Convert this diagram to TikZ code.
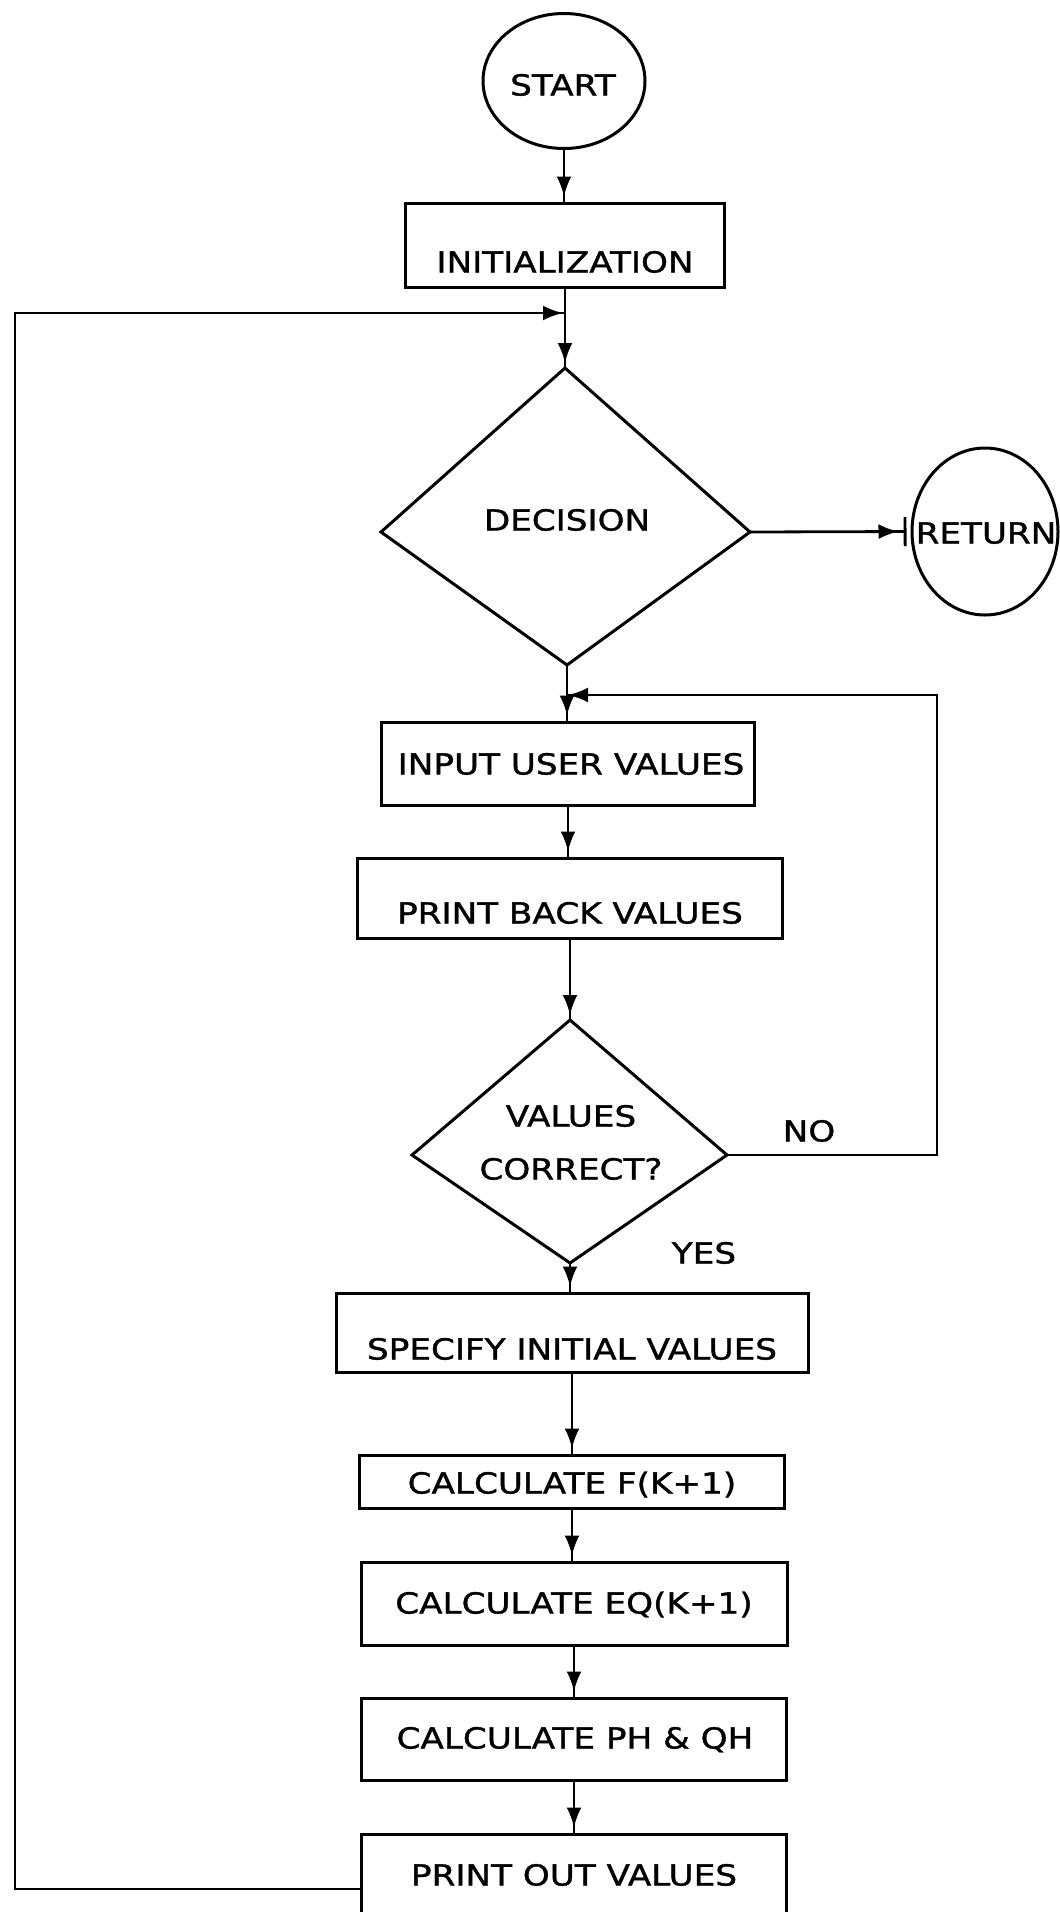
\documentclass[tikz,border=0pt]{standalone}
\usepackage{fontspec}
\newfontfamily\plotfont[FakeStretch=1.18,FakeBold=1.2]{DejaVu Sans}
\usetikzlibrary{shapes.geometric,arrows.meta,decorations.markings}

\tikzset{
  outline/.style={draw=black, line width=3pt, line join=miter},
  box/.style={outline, rectangle, inner sep=0pt},
  term/.style={outline, ellipse, inner sep=0pt},
  lbl/.style={font=\plotfont\fontsize{29}{34}\selectfont, inner sep=0pt,
              text height=21pt, text depth=0pt, anchor=center},
  conn/.style={draw=black, line width=2.8pt},
  flow/.style={conn, postaction={decorate},
    decoration={markings, mark=at position #1 with {\arrow{Latex[length=20pt,width=15pt]}}}},
  flow/.default=-5pt,
}

\begin{document}
\begin{tikzpicture}[x=1pt,y=-1pt]
\fill[white] (0,0) rectangle (1060,1912);
\useasboundingbox (0,0) rectangle (1060,1912);
\clip (0,0) rectangle (1060,1912);

% ---- terminals and process boxes ----
\node[term, minimum width=162pt, minimum height=135pt] (start) at (564,81) {};
\node[lbl] (startT) at (563,85) {START};

\node[box, minimum width=319pt, minimum height=84pt] (init) at (565,245) {};
\node[lbl] (initT) at (565,262) {INITIALIZATION};

\coordinate (loopin) at (565,313);

% first decision
\coordinate (dT) at (565,368);
\coordinate (dR) at (750,532);
\coordinate (dB) at (567,665);
\coordinate (dL) at (381,532);
\draw[outline] (dT) -- (dR) -- (dB) -- (dL) -- cycle;
\node[lbl] (decT) at (567,520) {DECISION};

\node[term, minimum width=146pt, minimum height=167pt] (ret) at (985,531.5) {};
\node[lbl] (retT) at (986,533) {RETURN};

\coordinate (noin) at (567,695);

\node[box, minimum width=373pt, minimum height=83pt] (input) at (568,763.5) {};
\node[lbl] (inputT) at (571,764) {INPUT USER VALUES};

\node[box, minimum width=425pt, minimum height=80pt] (pback) at (570,898) {};
\node[lbl] (pbackT) at (570,913) {PRINT BACK VALUES};

% second decision
\coordinate (eT) at (570,1020);
\coordinate (eR) at (727,1155);
\coordinate (eB) at (570,1263);
\coordinate (eL) at (412,1155);
\draw[outline] (eT) -- (eR) -- (eB) -- (eL) -- cycle;
\node[lbl] (valT) at (571,1116) {VALUES};
\node[lbl] (corT) at (571,1169) {CORRECT?};
\node[lbl] (noT) at (809,1131) {NO};
\node[lbl] (yesT) at (704,1253) {YES};

\coordinate (noR1) at (937,1155);
\coordinate (noR2) at (937,695);

\node[box, minimum width=472pt, minimum height=79pt] (spec) at (572,1332.5) {};
\node[lbl] (specT) at (572,1349) {SPECIFY INITIAL VALUES};

\node[box, minimum width=425pt, minimum height=53pt] (calcf) at (572,1481.5) {};
\node[lbl] (calcfT) at (572,1483) {CALCULATE F(K+1)};

\node[box, minimum width=426pt, minimum height=83pt] (calceq) at (574,1603.5) {};
\node[lbl] (calceqT) at (574,1603) {CALCULATE EQ(K+1)};

\node[box, minimum width=425pt, minimum height=82pt] (calcph) at (574,1739) {};
\node[lbl] (calcphT) at (575,1738) {CALCULATE PH \& QH};

\node[box, minimum width=425pt, minimum height=110pt] (pout) at (574,1889) {};
\node[lbl] (poutT) at (574,1875) {PRINT OUT VALUES};

\coordinate (lowL) at (15,1889);
\coordinate (topL) at (15,313);

% ---- connectors ----
\draw[flow] (start.south) -- (start.south |- init.north);
\draw[flow] (init.south) -- (dT);
\draw[flow=-12pt, -{Bar[width=29pt]}, shorten >=4pt] (dR) -- (ret.west);
\draw[flow] (dB) -- (dB |- input.north);
\draw[flow] (input.south) -- (input.south |- pback.north);
\draw[flow] (pback.south) -- (eT);
\draw[flow=-1pt] (eR) -- (noR1) -- (noR2) -- (noin);
\draw[flow] (eB) -- (eB |- spec.north);
\draw[flow] (spec.south) -- (spec.south |- calcf.north);
\draw[flow] (calcf.south) -- (calcf.south |- calceq.north);
\draw[flow] (calceq.south) -- (calceq.south |- calcph.north);
\draw[flow] (calcph.south) -- (calcph.south |- pout.north);
\draw[flow=-2pt] (pout.west) -- (lowL) -- (topL) -- (loopin);
\end{tikzpicture}
\end{document}
